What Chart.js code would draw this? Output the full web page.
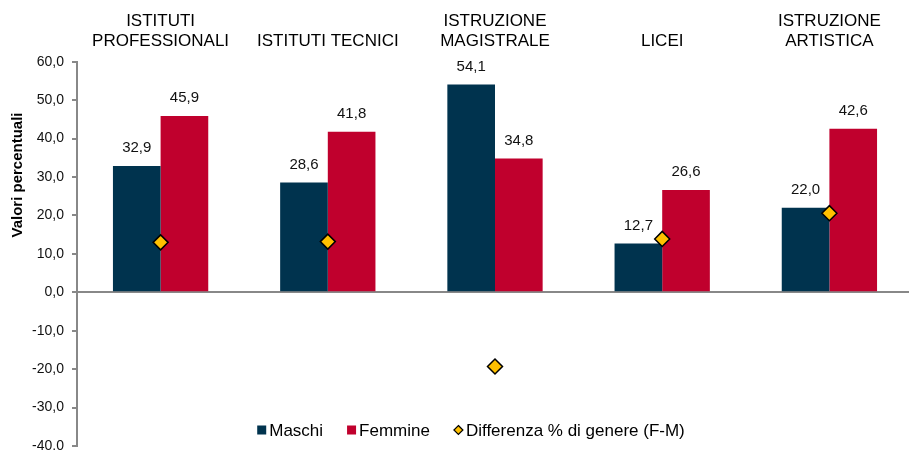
<!DOCTYPE html>
<html>
<head>
<meta charset="utf-8">
<script src="https://cdn.jsdelivr.net/npm/chart.js@4"></script>
<style>
  html, body { margin: 0; padding: 0; background: #fff; overflow: hidden; }
  #wrap { width: 909px; height: 450px; overflow: hidden; }
</style>
</head>
<body>
<div id="wrap"><canvas id="genderChart" width="922" height="455"></canvas></div>
<script>
const categories = [
    ['ISTITUTI', 'PROFESSIONALI'],
    'ISTITUTI TECNICI',
    ['ISTRUZIONE', 'MAGISTRALE'],
    'LICEI',
    ['ISTRUZIONE', 'ARTISTICA']
];
const maschi = [32.9, 28.6, 54.1, 12.7, 22.0];
const femmine = [45.9, 41.8, 34.8, 26.6, 42.6];
const differenza = [13.0, 13.2, -19.3, 13.9, 20.6]; // F - M
const yTicks = { min: -40, max: 60, step: 10 };

const FONT = "'Liberation Sans', Arial, sans-serif";

function fmt(v) {
    return v.toFixed(1).replace('.', ',');
}

// value labels above the bars
const barLabels = {
    id: 'barLabels',
    afterDatasetsDraw(chart) {
        const ctx = chart.ctx;
        ctx.save();
        ctx.font = '15px ' + FONT;
        ctx.fillStyle = '#111';
        ctx.textAlign = 'center';
        ctx.textBaseline = 'middle';
        chart.data.datasets.forEach((ds, i) => {
            if (ds.type === 'line') return;
            chart.getDatasetMeta(i).data.forEach((bar, j) => {
                ctx.fillText(fmt(ds.data[j]), bar.x, bar.y - 18);
            });
        });
        ctx.restore();
    }
};

// rotated axis title + legend overlapping the plot, as in the original
const extras = {
    id: 'extras',
    afterDraw(chart) {
        const ctx = chart.ctx;
        ctx.save();
        ctx.fillStyle = '#000';
        ctx.font = 'bold 15px ' + FONT;
        ctx.textAlign = 'center';
        ctx.textBaseline = 'middle';
        ctx.translate(18, 175);
        ctx.rotate(-Math.PI / 2);
        ctx.fillText('Valori percentuali', 0, 0);
        ctx.restore();

        ctx.save();
        ctx.font = '17px ' + FONT;
        ctx.textBaseline = 'middle';
        const y = 430;
        const items = chart.data.datasets.map(ds => ({
            text: ds.label,
            color: ds.backgroundColor,
            diamond: ds.type === 'line'
        }));
        const gap = 24, markerW = 9, markerGap = 3;
        let total = 0;
        items.forEach((it, i) => {
            it.w = ctx.measureText(it.text).width;
            total += markerW + markerGap + it.w + (i < items.length - 1 ? gap : 0);
        });
        let x = 471 - total / 2;
        items.forEach(it => {
            if (it.diamond) {
                const cx = x + markerW / 2, r = 4.5;
                ctx.beginPath();
                ctx.moveTo(cx, y - r);
                ctx.lineTo(cx + r, y);
                ctx.lineTo(cx, y + r);
                ctx.lineTo(cx - r, y);
                ctx.closePath();
                ctx.fillStyle = it.color;
                ctx.fill();
                ctx.lineWidth = 1.2;
                ctx.strokeStyle = '#000';
                ctx.stroke();
            } else {
                ctx.fillStyle = it.color;
                ctx.fillRect(x, y - 4.5, markerW, markerW);
            }
            x += markerW + markerGap;
            ctx.fillStyle = '#000';
            ctx.fillText(it.text, x, y + 1);
            x += it.w + gap;
        });
        ctx.restore();
    }
};

new Chart(document.getElementById('genderChart'), {
    type: 'bar',
    data: {
        labels: categories,
        datasets: [
            {
                label: 'Maschi',
                data: maschi,
                backgroundColor: '#00334E',
                categoryPercentage: 0.57,
                barPercentage: 1,
                order: 1
            },
            {
                label: 'Femmine',
                data: femmine,
                backgroundColor: '#C0002D',
                categoryPercentage: 0.57,
                barPercentage: 1,
                order: 1
            },
            {
                type: 'line',
                label: 'Differenza % di genere (F-M)',
                data: differenza,
                showLine: false,
                pointStyle: 'rectRot',
                pointRadius: 7.5,
                pointBackgroundColor: '#FFC000',
                backgroundColor: '#FFC000',
                pointBorderColor: '#000',
                pointBorderWidth: 1.5,
                order: 0
            }
        ]
    },
    options: {
        responsive: false,
        animation: false,
        layout: { padding: { top: 1, bottom: 0, left: 0, right: 0 } },
        plugins: {
            legend: { display: false },
            tooltip: { enabled: false }
        },
        scales: {
            x: {
                position: 'top',
                grid: { display: false, drawTicks: false },
                border: { display: false },
                ticks: {
                    color: '#000',
                    padding: 10,
                    maxRotation: 0,
                    font: { size: 17, family: FONT },
                    lineHeight: 1.2
                }
            },
            y: {
                min: yTicks.min,
                max: yTicks.max,
                afterFit(scale) {
                    scale.width = 77;
                    scale.paddingTop = 0;
                    scale.paddingBottom = 0;
                },
                border: { color: '#888', width: 2 },
                grid: {
                    color: c => (c.tick && c.tick.value === 0 ? '#888' : 'rgba(0,0,0,0)'),
                    lineWidth: 2,
                    tickColor: '#888',
                    tickLength: 5
                },
                ticks: {
                    stepSize: yTicks.step,
                    color: '#111',
                    padding: 8,
                    font: { size: 14, family: FONT },
                    callback: v => fmt(v)
                }
            }
        }
    },
    plugins: [barLabels, extras]
});
</script>
</body>
</html>
